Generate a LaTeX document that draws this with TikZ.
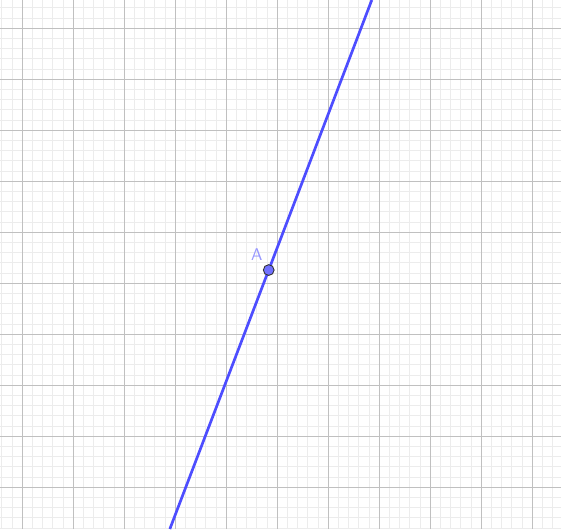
\documentclass[tikz,border=0pt]{standalone}
\usetikzlibrary{calc}

\definecolor{lineblue}{RGB}{77,77,255}
\definecolor{labelblue}{RGB}{150,150,255}
\definecolor{majorgray}{RGB}{192,192,192}
\definecolor{minorgray}{RGB}{236,236,236}

\tikzset{
  minorgrid/.style={minorgray,line width=0.5pt},
  majorgrid/.style={majorgray,line width=0.6pt},
  gline/.style={lineblue,line width=1.5pt},
  gpoint/.style={circle,draw=black!80,fill=lineblue!80,line width=0.5pt,inner sep=0pt,minimum size=6pt}
}

\begin{document}
\begin{tikzpicture}
  \useasboundingbox (0,0) rectangle (11,10.373);
  \clip (0,0) rectangle (11,10.373);
  % grid
  \foreach \i in {-2,...,53} \draw[minorgrid] ({0.437+0.2*\i},0)--({0.437+0.2*\i},10.373);
  \foreach \j in {-4,...,48} \draw[minorgrid] (0,{0.818+0.2*\j})--(11,{0.818+0.2*\j});
  \foreach \i in {0,...,10} \draw[majorgrid] ({0.437+\i},0)--({0.437+\i},10.373);
  \foreach \j in {0,...,9} \draw[majorgrid] (0,{0.818+\j})--(11,{0.818+\j});
  % line through A
  \coordinate (bot) at (3.33,0);
  \coordinate (top) at (7.29,10.373);
  \draw[gline] (bot)--(top);
  \node[gpoint] (A) at (5.269,5.078) {};
  \node[labelblue,font=\sffamily\fontsize{9.5}{11}\selectfont] at ($(A)+(-0.236,0.308)$) {A};
\end{tikzpicture}
\end{document}
